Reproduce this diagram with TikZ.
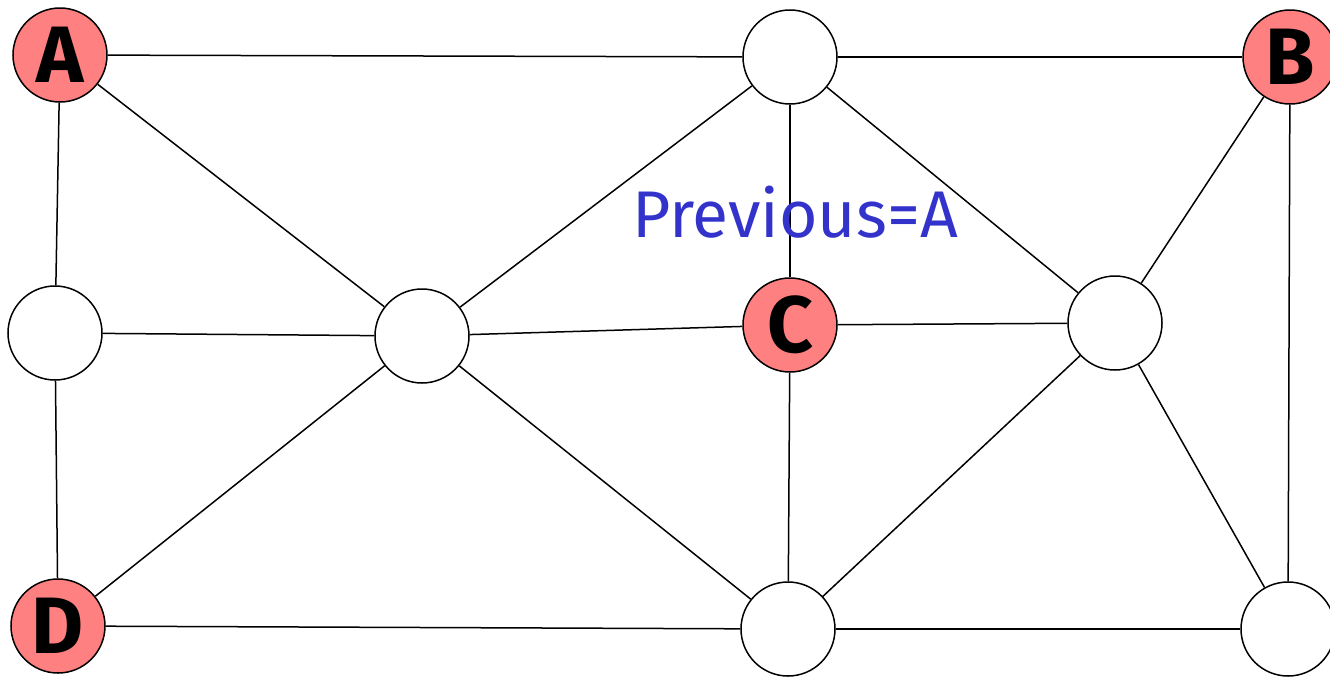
\documentclass[tikz,border=0pt]{standalone}
\usepackage{fontspec}
\setmainfont{Fira Sans}
\usetikzlibrary{backgrounds}
\definecolor{hitred}{HTML}{FF8080}
\definecolor{noteblue}{HTML}{3333CC}
\tikzset{
  vtx/.style={circle,draw,line width=1.5pt,minimum size=94pt,inner sep=0pt,fill=white},
  hit/.style={vtx,fill=hitred,font=\fontsize{80}{80}\selectfont\bfseries},
  edge/.style={line width=1.5pt}
}

\begin{document}
\begin{tikzpicture}[x=1pt,y=-1pt]
\path[use as bounding box] (0,0) rectangle (1330,678);
% vertices
\node[hit] (a) at (60,55) {A};
\node[vtx] (tm) at (790,57) {};
\node[hit] (b) at (1290,57) {B};
\node[vtx] (lm) at (55,333) {};
\node[vtx] (cl) at (422,336) {};
\node[hit] (c) at (790,325) {C};
\node[vtx] (rm) at (1115,323) {};
\node[hit] (d) at (58,626) {D};
\node[vtx] (bm) at (788,629) {};
\node[vtx] (br) at (1288,629) {};
% edges
\begin{scope}[on background layer]
\draw[edge] (a) -- (tm);
\draw[edge] (tm) -- (b);
\draw[edge] (a) -- (lm);
\draw[edge] (a) -- (cl);
\draw[edge] (tm) -- (cl);
\draw[edge] (tm) -- (c);
\draw[edge] (tm) -- (rm);
\draw[edge] (b) -- (rm);
\draw[edge] (b) -- (br);
\draw[edge] (lm) -- (cl);
\draw[edge] (cl) -- (c);
\draw[edge] (c) -- (rm);
\draw[edge] (lm) -- (d);
\draw[edge] (cl) -- (d);
\draw[edge] (cl) -- (bm);
\draw[edge] (c) -- (bm);
\draw[edge] (rm) -- (bm);
\draw[edge] (rm) -- (br);
\draw[edge] (d) -- (bm);
\draw[edge] (bm) -- (br);
\end{scope}
% note
\node[text=noteblue,font=\fontsize{66}{66}\selectfont] (note) at (795,212) {Previous=A};
\end{tikzpicture}
\end{document}
